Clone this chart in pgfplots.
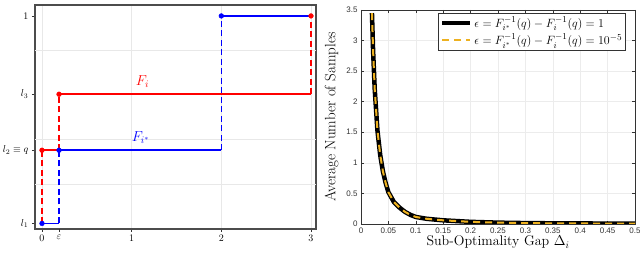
\documentclass[border=0pt]{standalone}
\usepackage{pgfplots}
\pgfplotsset{compat=1.18}
\usepackage{pgfplotstable}
\usepackage{fontspec}
\setsansfont{Liberation Sans}
\definecolor{mred}{RGB}{255,0,0}
\definecolor{mblue}{RGB}{0,0,255}
\definecolor{myellow}{RGB}{237,177,32}
\pgfplotstableread{
x y
0.02 3.45
0.022 2.85
0.025 2.21
0.03 1.53
0.035 1.13
0.04 0.86
0.045 0.67
0.05 0.52
0.06 0.36
0.07 0.27
0.08 0.20
0.09 0.15
0.1 0.115
0.12 0.085
0.15 0.06
0.2 0.035
0.25 0.022
0.3 0.015
0.35 0.011
0.4 0.009
0.45 0.007
0.5 0.006
}\dataA
\pgfplotstableread{
x y
0.02 3.45
0.022 2.85
0.025 2.21
0.03 1.53
0.035 1.13
0.04 0.86
0.045 0.67
0.05 0.52
0.06 0.36
0.07 0.27
0.08 0.20
0.09 0.15
0.1 0.115
0.12 0.085
0.15 0.06
0.2 0.035
0.25 0.022
0.3 0.015
0.35 0.011
0.4 0.009
0.45 0.007
0.5 0.006
}\dataB
\begin{document}
\begin{tikzpicture}
\path[use as bounding box] (0,0) rectangle (640pt,253pt);
% ---------------- left panel ----------------
\begin{axis}[
  at={(35pt,24pt)}, anchor=south west,
  scale only axis, width=281pt, height=224pt,
  xmin=-0.078, xmax=3.056, ymin=0, ymax=1.004,
  xtick={0,1,2,3},
  extra x ticks={0.19}, extra x tick labels={$\varepsilon$},
  extra x tick style={grid=none},
  ytick={0.025,0.353,0.604,0.955},
  yticklabels={$l_1$,$l_2\equiv q$,$l_3$,$1$},
  extra y ticks={0.2,0.4,0.8}, extra y tick labels={},
  extra y tick style={grid=major, major tick length=0pt},
  xmajorgrids,
  grid style={gray!18, line width=0.8pt},
  axis line style={gray!60!black, line width=1.1pt},
  tick style={gray!40!black, line width=0.6pt},
  tick align=outside, major tick length=3pt,
  xtick pos=lower, ytick pos=left,
  tick label style={font=\normalsize},
  clip=false,
]
% red F_i
\addplot[mred, line width=1.6pt, dash pattern=on 6pt off 3.5pt] coordinates {(0,0.025) (0,0.353)};
\addplot[mred, line width=1.6pt, dash pattern=on 6pt off 3.5pt] coordinates {(0.19,0.353) (0.19,0.604)};
\addplot[mred, line width=1.6pt, dash pattern=on 6pt off 3.5pt] coordinates {(3,0.604) (3,0.955)};
\addplot[mred, line width=1.6pt] coordinates {(0,0.353) (0.19,0.353)};
\addplot[mred, line width=1.6pt] coordinates {(0.19,0.604) (3,0.604)};
\addplot[mred, only marks, mark=*, mark size=2.4pt] coordinates {(0,0.353) (0.19,0.604) (3,0.955)};
% blue F_i*
\addplot[mblue, line width=1.6pt, dash pattern=on 6pt off 3.5pt] coordinates {(0.19,0.025) (0.19,0.353)};
\addplot[mblue, line width=1.6pt, dash pattern=on 6pt off 3.5pt] coordinates {(2,0.353) (2,0.955)};
\addplot[mblue, line width=1.6pt] coordinates {(0,0.025) (0.19,0.025)};
\addplot[mblue, line width=1.6pt] coordinates {(0.19,0.353) (2,0.353)};
\addplot[mblue, line width=1.6pt] coordinates {(2,0.955) (3,0.955)};
\addplot[mblue, only marks, mark=*, mark size=2.4pt] coordinates {(0,0.025) (0.19,0.353) (2,0.955)};
\node[mred, font=\Large] at (axis cs:1.12,0.66) {$F_i$};
\node[mblue, font=\Large] at (axis cs:1.1,0.41) {$F_{i^*}$};
\end{axis}
% ---------------- right panel ----------------
\begin{axis}[
  at={(361pt,29pt)}, anchor=south west,
  scale only axis, width=274pt, height=214pt,
  xmin=0, xmax=0.5, ymin=0, ymax=3.5,
  xtick={0,0.05,0.1,0.15,0.2,0.25,0.3,0.35,0.4,0.45,0.5},
  xticklabels={0,0.05,0.1,0.15,0.2,0.25,0.3,0.35,0.4,0.45,0.5},
  ytick={0,0.5,1,1.5,2,2.5,3,3.5},
  yticklabels={0,0.5,1,1.5,2,2.5,3,3.5},
  grid=major, grid style={gray!15, line width=0.5pt},
  axis line style={black!80, line width=0.5pt},
  tick style={black!80, line width=0.5pt},
  tick align=inside, major tick length=3pt,
  tick label style={font=\sffamily\footnotesize, text=black!80},
  xlabel={Sub-Optimality Gap $\Delta_i$},
  ylabel={Average Number of Samples},
  xlabel style={font=\fontsize{14}{16}\selectfont, yshift=4pt},
  ylabel style={font=\fontsize{15}{17}\selectfont, yshift=1pt},
  legend style={at={(0.967,0.986)}, anchor=north east, draw=black!80,
    line width=0.5pt, font=\fontsize{13}{14}\selectfont, inner sep=1.5pt, row sep=1pt,
    legend cell align=left},
  legend image code/.code={\draw[#1] (0pt,0pt) -- (28pt,0pt);},
]
\addplot[black, line width=4.5pt] table {\dataA};
\addlegendentry{$\epsilon = F_{i^*}^{-1}(q) - F_i^{-1}(q) = 1$}
\addplot[myellow, line width=2pt, dash pattern=on 7pt off 5pt] table {\dataB};
\addlegendentry{$\epsilon = F_{i^*}^{-1}(q) - F_i^{-1}(q) = 10^{-5}$}
\node[anchor=south west, font=\sffamily\scriptsize, text=black!80, inner sep=1pt] at (rel axis cs:0,1) {$\times 10^{4}$};
\end{axis}
\end{tikzpicture}
\end{document}
